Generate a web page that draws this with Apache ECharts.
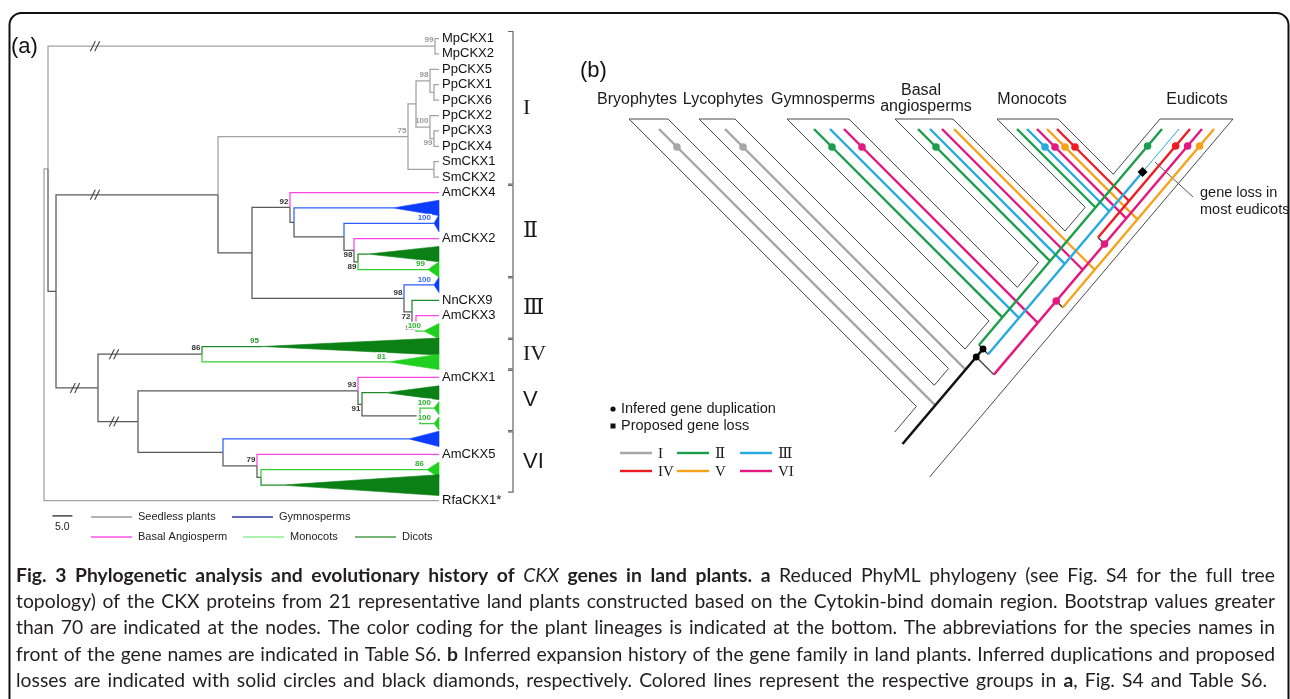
<!DOCTYPE html>
<html>
<head>
<meta charset="utf-8">
<title>CKX phylogeny</title>
<script src="https://cdn.jsdelivr.net/npm/echarts@6/dist/echarts.min.js"></script>
<style>html,body{margin:0;padding:0;background:#fff;overflow:hidden}#chart{width:1290px;height:699px}</style>
</head>
<body>
<div id="chart"></div>
<script>
// ===================== DATA =====================
// ---- Panel (a): reduced PhyML tree ----
const leafLabels = ['MpCKX1','MpCKX2','PpCKX5','PpCKX1','PpCKX6','PpCKX2','PpCKX3','PpCKX4','SmCKX1','SmCKX2',
  'AmCKX4','','','AmCKX2','','','','NnCKX9','AmCKX3','','','','AmCKX1','','','','','AmCKX5','','','RfaCKX1*'];
const TIP = 98.75;          // tip depth, in units of the scale bar
const scaleBar = 5.0;
// N(depth, lineage, bootstrap, children, extra)   L(leaf, lineage)   C(leaf, lineage, apexDepth, halfSize, bootstrap)
function N(d, g, b, ch, o) { return Object.assign({ d, g, b, ch }, o || {}); }
function L(i, g) { return { leaf: i, g }; }
function C(i, g, apex, h, b) { return { leaf: i, g, apex, h, b }; }
const tree = N(0, 'seed', 0, [
  N(1, 'seed', 0, [
    N(97.75, 'seed', 99, [L(1, 'seed'), L(2, 'seed')], { brk: 12.75 }),
    N(3, 'stem', 0, [
      N(43.5, 'stem', 0, [
        N(91, 'seed', 75, [
          N(93, 'seed', 0, [
            N(96.5, 'seed', 98, [L(3, 'seed'), N(97.5, 'seed', 0, [L(4, 'seed'), L(5, 'seed')])]),
            N(96.5, 'seed', 100, [L(6, 'seed'), N(97.5, 'seed', 99, [L(7, 'seed'), L(8, 'seed')], { id: 'pp34' })])
          ]),
          N(97.5, 'seed', 0, [L(9, 'seed'), L(10, 'seed')])
        ]),
        N(52, 'stem', 0, [
          N(61.5, 'stem', 92, [
            L(11, 'basal'),
            N(62.5, 'stem', 0, [
              C(12, 'gymno', 87.25, 0.5, 0),
              N(75, 'stem', 0, [
                C(13, 'gymno', 97.5, 0.55, 100),
                N(77.5, 'stem', 98, [
                  L(14, 'basal'),
                  N(78.5, 'stem', 89, [C(15, 'dicot', 81, 0.5, 0), C(16, 'mono', 96, 0.5, 99)], { id: 'J' })
                ], { id: 'I' })
              ])
            ])
          ]),
          N(90, 'stem', 98, [
            C(17, 'gymno', 97.5, 0.5, 100),
            N(92, 'stem', 72, [
              L(18, 'dicot'),
              N(93, 'stem', 98, [L(19, 'basal'), C(20, 'mono', 95, 0.5, 100)], { id: 'M' })
            ], { id: 'L' })
          ])
        ])
      ], { brk: 12.75 }),
      N(13.5, 'stem', 0, [
        N(39.5, 'stem', 86, [C(21, 'dicot', 54.5, 0.55, 95), C(22, 'mono', 86.25, 0.5, 81)], { brk: 17.5 }),
        N(23.5, 'stem', 0, [
          N(78.5, 'stem', 93, [
            L(23, 'basal'),
            N(79.5, 'stem', 91, [
              C(24, 'dicot', 85.5, 0.45, 0),
              N(94, 'stem', 0, [C(25, 'mono', 97.5, 0.42, 100), C(26, 'mono', 97.5, 0.42, 100)])
            ], { id: 'Q' })
          ]),
          N(44.75, 'stem', 0, [
            C(27, 'gymno', 91.25, 0.5, 0),
            N(53.25, 'stem', 79, [
              L(28, 'basal'),
              N(54.25, 'stem', 0, [C(29, 'mono', 95.75, 0.5, 86), C(30, 'dicot', 59.5, 0.68, 0)])
            ])
          ])
        ], { brk: 17.5 })
      ], { brk: 7.75 })
    ])
  ]),
  L(31, 'seed')
]);
const groupNames = ['I', 'II', 'III', 'IV', 'V', 'VI'];
const groupLeafRanges = [[1, 10], [11, 16], [17, 20], [21, 22], [23, 26], [27, 30]];
const aLegendNames = ['Seedless plants', 'Gymnosperms', 'Basal Angiosperm', 'Monocots', 'Dicots'];

// ---- Panel (b): inferred expansion history ----
const bTaxa = ['Bryophytes', 'Lycophytes', 'Gymnosperms', 'Basal\nangiosperms', 'Monocots', 'Eudicots'];
const bSideGenes = [ // [taxon, group, duplication dot]
  [0, 'I', 1], [1, 'I', 1],
  [2, 'II', 1], [2, 'III', 0], [2, 'VI', 1],
  [3, 'II', 1], [3, 'III', 0], [3, 'VI', 0], [3, 'V', 0],
  [4, 'II', 0], [4, 'III', 1], [4, 'VI', 1], [4, 'V', 1], [4, 'IV', 1]];
const bTrunkGenes = [ // [group, parent lineage, duplication height, dot near tip]
  ['II', 'stem', 349, 1], ['III', 'stem', 349, 0], ['VI', 'stem', 357, 1], ['V', 'VI', 301, 1], ['IV', 'VI', 244, 1]];
const bLosses = [['III', 172]];
const bLegendItems = [['Infered gene duplication', 'circle'], ['Proposed gene loss', 'square']];

// ---- Caption ----
const captionLines = [
  [['b', 'Fig. 3 Phylogenetic analysis and evolutionary history of '], ['i', 'CKX'], ['b', ' genes in land plants. a'], ['r', ' Reduced PhyML phylogeny (see Fig. S4 for the full tree']],
  [['r', 'topology) of the CKX proteins from 21 representative land plants constructed based on the Cytokin-bind domain region. Bootstrap values greater']],
  [['r', 'than 70 are indicated at the nodes. The color coding for the plant lineages is indicated at the bottom. The abbreviations for the species names in']],
  [['r', 'front of the gene names are indicated in Table S6. '], ['b', 'b'], ['r', ' Inferred expansion history of the gene family in land plants. Inferred duplications and proposed']],
  [['r', 'losses are indicated with solid circles and black diamonds, respectively. Colored lines represent the respective groups in '], ['b', 'a'], ['r', ', Fig. S4 and Table S6.']]
];

// ===================== STYLE / LAYOUT =====================
const SANS = '"Liberation Sans", Arial, Helvetica, sans-serif';
const gIdx = { seed: 0, stem: 1, gymno: 2, basal: 3, mono: 4, dicot: 5 };
const branchColor = ['#a2a2a2', '#5a5a5a', '#2f5eff', '#ff45e3', '#36d036', '#1e8c2a'];
const cladeFill = ['#a2a2a2', '#5a5a5a', '#0b3dff', '#ff45e3', '#20d020', '#0b8015'];
const labelColor = ['#9a9a9a', '#333333', '#3c6cff', '#ff45e3', '#2db52d', '#2a9a2a'];
const belowIds = ['pp34', 'I', 'J', 'L', 'M', 'Q'];
const groupGlyph = ['I', 'Ⅱ', 'Ⅲ', 'IV', 'V', 'VI'];
const groupGlyphFont = ['"Liberation Serif"', '"DejaVu Serif"', '"DejaVu Serif"', '"Liberation Serif"', '"Liberation Sans"', '"Liberation Sans"'];
const legendColorA = ['#9a9a9a', '#2b3a9f', '#ff55e8', '#90ee90', '#4b9e4b'];

const bColor = { I: '#a6a6a6', II: '#1b9e4b', III: '#27aae1', IV: '#ed1c24', V: '#f7a21b', VI: '#e4197f' };
const B = {
  top: 119, geneTop: 129, dotY: 147, tipDotY: 146, slope: 1.18,
  tubes: [[629, 668], [699, 735], [787, 849], [895, 953], [997, 1058], [1160, 1233]],
  sideGeneX: [659, 725, 814, 830, 844, 918, 930, 942, 954, 1017, 1027, 1037, 1047, 1057],
  trunkGeneX: { II: 1162, III: 1179, IV: 1190, VI: 1202, V: 1214 },
  stemBottom: [902.5, 444], rootEnds: [432, 477],
  labelX: [637, 723, 823, 925, 1032, 1197], labelY: 100
};

// ===================== TREE LAYOUT =====================
(function lay(n) {
  if (n.leaf !== undefined) { n.y = n.leaf; n.x = (n.apex !== undefined) ? n.apex : TIP; return; }
  n.ch.forEach(lay);
  n.y = (n.ch[0].y + n.ch[n.ch.length - 1].y) / 2; n.x = n.d;
})(tree);
const branches = [], clades = [], aTexts = [], breaks = [];
(function walk(n) {
  if (n.leaf !== undefined) {
    if (n.apex !== undefined) {
      clades.push([n.apex, n.y, n.h, gIdx[n.g]]);
      if (n.b) aTexts.push({ kind: 'clade', x: n.apex, y: n.y, text: String(n.b), g: gIdx[n.g] });
    }
    return;
  }
  if (n.b) aTexts.push({ kind: 'node', x: n.x, y: n.y, text: String(n.b), g: gIdx[n.g], below: belowIds.includes(n.id) });
  n.ch.forEach(c => {
    branches.push([n.x, n.y, c.x, c.y, gIdx[c.g]]);
    if (c.brk) breaks.push([c.brk, c.y]);
    walk(c);
  });
})(tree);
leafLabels.forEach((t, i) => { if (t) aTexts.push({ kind: 'leaf', x: TIP, y: i + 1, text: t }); });

// ===================== PANEL (b) GEOMETRY =====================
const K = B.slope;
const onC = (c, y) => [y + c, y];
const onD = (d, y) => [(d - y) / K, y];
const meet = (c, d) => { const x = (c + d) / (1 + K); return [x, x - c]; };
const bSegs = [], bMarks = [];
const OUT = '#4a4a4a';
const d1 = B.top + K * B.tubes[5][0], d2 = B.top + K * B.tubes[5][1];
for (let i = 0; i < 5; i++) {
  const [l, r] = B.tubes[i];
  bSegs.push({ pts: [[l, B.top], [r, B.top]], color: OUT, w: 1 });
  bSegs.push({ pts: [[l, B.top], meet(l - B.top, d1)], color: OUT, w: 1 });
  bSegs.push({ pts: [[r, B.top], meet(r - B.top, d1)], color: OUT, w: 1 });
  if (i < 4) bSegs.push({ pts: [meet(r - B.top, d1), meet(B.tubes[i + 1][0] - B.top, d1)], color: OUT, w: 1 });
}
bSegs.push({ pts: [meet(B.tubes[0][0] - B.top, d1), onD(d1, B.rootEnds[0])], color: OUT, w: 1 });
bSegs.push({ pts: [meet(B.tubes[4][1] - B.top, d1), [B.tubes[5][0], B.top]], color: OUT, w: 1 });
bSegs.push({ pts: [[B.tubes[5][0], B.top], [B.tubes[5][1], B.top]], color: OUT, w: 1 });
bSegs.push({ pts: [[B.tubes[5][1], B.top], onD(d2, B.rootEnds[1])], color: OUT, w: 1 });

const dStem = B.stemBottom[1] + K * B.stemBottom[0];
const lineD = { stem: dStem };
Object.keys(B.trunkGeneX).forEach(g => { lineD[g] = B.geneTop + K * B.trunkGeneX[g]; });
// side lineages
bSideGenes.forEach(([t, g, dot], i) => {
  const x = B.sideGeneX[i], c = x - B.geneTop;
  const end = meet(c, g === 'I' ? dStem : lineD[g]);
  bSegs.push({ pts: [[x, B.geneTop], end], color: bColor[g], w: 2.4 });
  if (dot) bMarks.push({ type: 'dot', p: onC(c, B.dotY), color: bColor[g], r: 3.8 });
});
// stem
const stemTop = Math.min(...bTrunkGenes.filter(t => t[1] === 'stem').map(t => t[2]));
bSegs.push({ pts: [onD(dStem, B.stemBottom[1]), onD(dStem, stemTop)], color: '#111', w: 2.6 });
// trunk lineages
const dupDone = {};
bTrunkGenes.forEach(([g, parent, yDup, dot]) => {
  const pd = lineD[parent], d = lineD[g];
  const p = onD(pd, yDup), t = (d - pd) / (1 + K), s = [p[0] + t, p[1] + t];
  bSegs.push({ pts: [p, s], color: '#333', w: 1.3 });
  const loss = bLosses.find(l => l[0] === g);
  if (loss) {
    bSegs.push({ pts: [s, onD(d, loss[1])], color: bColor[g], w: 2.4 });
    bSegs.push({ pts: [onD(d, loss[1]), onD(d, B.geneTop)], color: bColor[g], w: 1 });
    bMarks.push({ type: 'diamond', p: onD(d, loss[1]), color: '#000', r: 5 });
  } else {
    bSegs.push({ pts: [s, onD(d, B.geneTop)], color: bColor[g], w: 2.4 });
  }
  if (dot) bMarks.push({ type: 'dot', p: onD(d, B.tipDotY), color: bColor[g], r: 3.8 });
  const key = parent + yDup;
  if (!dupDone[key]) { dupDone[key] = 1; bMarks.push({ type: 'dot', p: p, color: parent === 'stem' ? '#000' : bColor[parent], r: parent === 'stem' ? 3.4 : 3.8 }); }
});

// ===================== CAPTION LAYOUT =====================
const CAP_FAMILY = 'Lato, "Open Sans", sans-serif';
const capCtx = document.createElement('canvas').getContext('2d');
function capFont(st, fs) { return (st === 'i' ? 'italic ' : '') + (st === 'b' ? 'bold ' : '') + fs + 'px ' + CAP_FAMILY; }
function measure(txt, font) { capCtx.font = font; return capCtx.measureText(txt).width; }
function splitWords(line) {
  const out = []; let cur = [];
  line.forEach(([st, txt]) => {
    let buf = '';
    for (const ch of txt) {
      if (ch === ' ') { if (buf) { cur.push([st, buf]); buf = ''; } if (cur.length) { out.push(cur); cur = []; } }
      else buf += ch;
    }
    if (buf) cur.push([st, buf]);
  });
  if (cur.length) out.push(cur);
  return out;
}
const CAP_X0 = 16, CAP_X1 = 1275, CAP_Y0 = 576, CAP_LH = 26.1;
const capWords = captionLines.map(splitWords);
const wordW = (w, fs) => w.reduce((a, [st, t]) => a + measure(t, capFont(st, fs)), 0);
const natural = capWords.map(ws => ws.reduce((s, w) => s + wordW(w, 20), 0) + (ws.length - 1) * measure(' ', capFont('r', 20)));
const capFs = Math.min(20, 20 * (CAP_X1 - CAP_X0) * 0.985 / Math.max(...natural));
const captionEls = [];
capWords.forEach((ws, li) => {
  const widths = ws.map(w => wordW(w, capFs));
  const sum = widths.reduce((a, b) => a + b, 0);
  const right = li === capWords.length - 1 ? CAP_X1 - 8 : CAP_X1;
  const gap = (right - CAP_X0 - sum) / (ws.length - 1);
  let x = CAP_X0; const y = CAP_Y0 + li * CAP_LH;
  ws.forEach((w, wi) => {
    let xx = x;
    w.forEach(([st, t]) => {
      captionEls.push({ type: 'text', x: xx, y: y, silent: true, style: { text: t, font: capFont(st, capFs), fill: '#231f20', align: 'left', verticalAlign: 'middle', textAlign: 'left', textVerticalAlign: 'middle' } });
      xx += measure(t, capFont(st, capFs));
    });
    x += widths[wi] + gap;
  });
});

// ===================== GRAPHIC (static text / legends) =====================
function gText(x, y, text, font, fill, align) {
  return { type: 'text', x, y, silent: true, style: { text, font, fill: fill || '#1a1a1a', align: align || 'left', verticalAlign: 'middle', textAlign: align || 'left', textVerticalAlign: 'middle' } };
}
function gLine(x1, y1, x2, y2, color, w) {
  return { type: 'line', silent: true, shape: { x1, y1, x2, y2 }, style: { stroke: color, lineWidth: w || 1.5 } };
}
const graphics = [];
graphics.push({ type: 'rect', silent: true, shape: { x: 9.5, y: 13, width: 1279, height: 720, r: 12 }, style: { fill: 'none', stroke: '#111', lineWidth: 2 } });
graphics.push(gText(11, 47, '(a)', '22px ' + SANS, '#111'));
graphics.push(gText(580, 71, '(b)', '22px ' + SANS, '#111'));
// legend (a)
const aLegPos = [[91, 517], [232, 517], [91, 537], [243, 537], [355, 537]];
aLegendNames.forEach((name, i) => {
  const [x, y] = aLegPos[i];
  graphics.push(gLine(x, y, x + 41, y, legendColorA[i], 1.5));
  graphics.push(gText(x + 47, y, name, '11px ' + SANS, '#222'));
});
// panel (b) taxon labels
bTaxa.forEach((t, i) => {
  const lines = t.split('\n');
  if (lines.length === 1) graphics.push(gText(B.labelX[i], B.labelY, t, '16px ' + SANS, '#1a1a1a', 'center'));
  else { graphics.push(gText(B.labelX[i] - 4, B.labelY - 9, lines[0], '16px ' + SANS, '#1a1a1a', 'center')); graphics.push(gText(B.labelX[i] + 1, B.labelY + 7, lines[1], '16px ' + SANS, '#1a1a1a', 'center')); }
});
// gene loss note
graphics.push(gLine(1155, 162, 1193, 197, '#555', 1));
graphics.push(gText(1200, 193, 'gene loss in', '14.5px ' + SANS, '#1a1a1a'));
graphics.push(gText(1200, 210, 'most eudicots', '14.5px ' + SANS, '#1a1a1a'));
// legend (b)
bLegendItems.forEach(([name, shape], i) => {
  const y = 409 + i * 17;
  if (shape === 'circle') graphics.push({ type: 'circle', silent: true, shape: { cx: 613, cy: y, r: 2.6 }, style: { fill: '#111' } });
  else graphics.push({ type: 'rect', silent: true, shape: { x: 610.5, y: y - 2.5, width: 5, height: 5 }, style: { fill: '#111' } });
  graphics.push(gText(621, y, name, '14.5px ' + SANS, '#1a1a1a'));
});
const bLegendGlyphFont = ['"Liberation Serif"', '"DejaVu Serif"', '"DejaVu Serif"', '"Liberation Serif"', '"Liberation Serif"', '"Liberation Serif"'];
groupNames.forEach((g, i) => {
  const col = i % 3, row = Math.floor(i / 3);
  const x = [620, 677, 740][col], y = 453 + row * 18;
  graphics.push(gLine(x, y, x + 32, y, bColor[g], 2.4));
  graphics.push(gText(x + 38, y + 1, groupGlyph[i], '15px ' + bLegendGlyphFont[i], '#1a1a1a'));
});

// ===================== CHART =====================
const chart = echarts.init(document.getElementById('chart'), null, { renderer: 'canvas', width: 1290, height: 699 });
const cart0 = { type: 'custom', coordinateSystem: 'cartesian2d', xAxisIndex: 0, yAxisIndex: 0, clip: false, silent: true, animation: false };
const cart1 = { type: 'custom', coordinateSystem: 'cartesian2d', xAxisIndex: 1, yAxisIndex: 1, clip: false, silent: true, animation: false };
const option = {
  animation: false,
  backgroundColor: '#ffffff',
  grid: [{ left: 44, top: 38.5, width: 395, height: 462 }, { left: 0, top: 0, width: 1290, height: 699 }],
  xAxis: [{ type: 'value', gridIndex: 0, min: 0, max: TIP, show: false }, { type: 'value', gridIndex: 1, min: 0, max: 1290, show: false }],
  yAxis: [{ type: 'value', gridIndex: 0, min: 1, max: 31, inverse: true, show: false }, { type: 'value', gridIndex: 1, min: 0, max: 699, inverse: true, show: false }],
  series: [
    Object.assign({}, cart0, {
      name: 'collapsed clades', data: clades,
      renderItem(params, api) {
        const a = api.value(0), y = api.value(1), h = api.value(2), g = api.value(3);
        return { type: 'polygon', shape: { points: [api.coord([a, y]), api.coord([TIP, y - h]), api.coord([TIP, y + h])] }, style: { fill: cladeFill[g], stroke: cladeFill[g], lineWidth: 0.6 } };
      }
    }),
    Object.assign({}, cart0, {
      name: 'branches', data: branches,
      renderItem(params, api) {
        const px = api.value(0), py = api.value(1), cx = api.value(2), cy = api.value(3), g = api.value(4);
        return { type: 'polyline', shape: { points: [api.coord([px, py]), api.coord([px, cy]), api.coord([cx, cy])] }, style: { stroke: branchColor[g], lineWidth: 1.25, fill: 'none' } };
      }
    }),
    Object.assign({}, cart0, {
      name: 'breaks', data: breaks,
      renderItem(params, api) {
        const p = api.coord([api.value(0), api.value(1)]);
        const mk = o => ({ type: 'line', shape: { x1: p[0] + o - 2.5, y1: p[1] + 5, x2: p[0] + o + 2.5, y2: p[1] - 5 }, style: { stroke: '#444', lineWidth: 1.1 } });
        return { type: 'group', children: [mk(-2.2), mk(2.2)] };
      }
    }),
    Object.assign({}, cart0, {
      name: 'labels', data: aTexts.map(t => [t.x, t.y]),
      renderItem(params, api) {
        const t = aTexts[params.dataIndex];
        const p = api.coord([t.x, t.y]);
        if (t.kind === 'leaf') return { type: 'text', x: p[0] + 3, y: p[1], style: { text: t.text, font: '13px ' + SANS, fill: '#111', align: 'left', verticalAlign: 'middle', textAlign: 'left', textVerticalAlign: 'middle' } };
        if (t.kind === 'node') return { type: 'text', x: p[0] - 1.5, y: p[1] + (t.below ? 4.5 : -6), style: { text: t.text, font: 'bold 8px ' + SANS, fill: labelColor[t.g], align: 'right', verticalAlign: 'middle', textAlign: 'right', textVerticalAlign: 'middle' } };
        return { type: 'text', x: p[0] - 2, y: p[1] - 5.5, style: { text: t.text, font: 'bold 8px ' + SANS, fill: labelColor[t.g], align: 'right', verticalAlign: 'middle', textAlign: 'right', textVerticalAlign: 'middle', backgroundColor: '#fff', padding: [0, 1] } };
      }
    }),
    Object.assign({}, cart0, {
      name: 'groups', data: groupLeafRanges,
      renderItem(params, api) {
        const i = params.dataIndex;
        const pa = api.coord([TIP, api.value(0)]), pb = api.coord([TIP, api.value(1)]);
        const x = pa[0] + 74, y1 = pa[1] - 7, y2 = pb[1] + 7;
        return { type: 'group', children: [
          { type: 'polyline', shape: { points: [[x - 5, y1], [x, y1], [x, y2], [x - 5, y2]] }, style: { stroke: '#666', lineWidth: 1.2, fill: 'none' } },
          { type: 'text', x: x + 10, y: (y1 + y2) / 2, style: { text: groupGlyph[i], font: '22px ' + groupGlyphFont[i], fill: '#1a1a1a', align: 'left', verticalAlign: 'middle', textAlign: 'left', textVerticalAlign: 'middle' } }
        ] };
      }
    }),
    Object.assign({}, cart0, {
      name: 'scale', data: [[2.1, 32]],
      renderItem(params, api) {
        const a = api.coord([api.value(0), api.value(1)]), b = api.coord([api.value(0) + scaleBar, api.value(1)]);
        return { type: 'group', children: [
          { type: 'line', shape: { x1: a[0], y1: a[1], x2: b[0], y2: b[1] }, style: { stroke: '#444', lineWidth: 1.5 } },
          { type: 'text', x: (a[0] + b[0]) / 2, y: a[1] + 11, style: { text: scaleBar.toFixed(1), font: '10.5px ' + SANS, fill: '#222', align: 'center', verticalAlign: 'middle', textAlign: 'center', textVerticalAlign: 'middle' } }
        ] };
      }
    }),
    Object.assign({}, cart1, {
      name: 'expansion lines', data: bSegs.map(s => s.pts[0]),
      renderItem(params, api) {
        const s = bSegs[params.dataIndex];
        return { type: 'polyline', shape: { points: s.pts.map(p => api.coord(p)) }, style: { stroke: s.color, lineWidth: s.w, fill: 'none', lineCap: 'butt' } };
      }
    }),
    Object.assign({}, cart1, {
      name: 'events', data: bMarks.map(m => m.p),
      renderItem(params, api) {
        const m = bMarks[params.dataIndex];
        const p = api.coord(m.p);
        if (m.type === 'dot') return { type: 'circle', shape: { cx: p[0], cy: p[1], r: m.r }, style: { fill: m.color } };
        return { type: 'polygon', shape: { points: [[p[0], p[1] - m.r], [p[0] + m.r, p[1]], [p[0], p[1] + m.r], [p[0] - m.r, p[1]]] }, style: { fill: m.color } };
      }
    })
  ],
  graphic: { elements: graphics.concat(captionEls) }
};
chart.setOption(option);
</script>
</body>
</html>
